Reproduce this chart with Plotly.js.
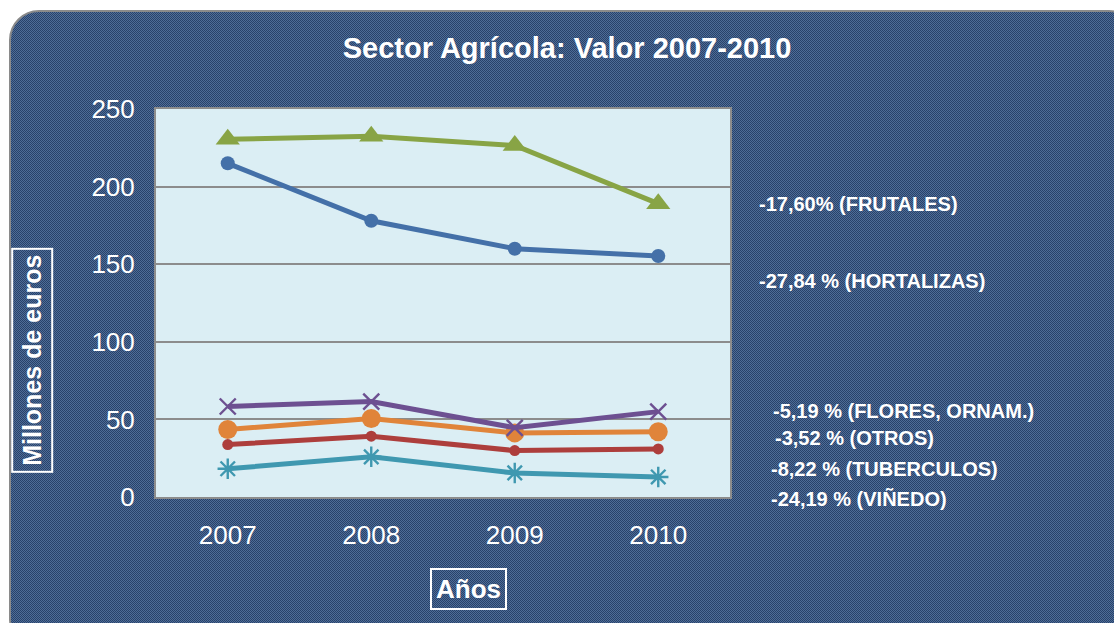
<!DOCTYPE html>
<html>
<head>
<meta charset="utf-8">
<script src="https://cdn.plot.ly/plotly-3.0.1.min.js"></script>
<style>
  html, body { margin:0; padding:0; background:#ffffff; width:1114px; height:623px; overflow:hidden; }
  #bg { position:absolute; left:9px; top:10px; width:1130px; height:640px; box-sizing:border-box;
        border:2px solid #8a8a8a; border-radius:30px;
        background: repeating-conic-gradient(#28426a 0 25%, #4f6d97 0 50%) 0 0/2px 2px; }
  #chart { position:absolute; left:0; top:0; width:1114px; height:623px; }
</style>
</head>
<body>
<div id="bg"></div>
<div id="chart"></div>
<script>
const years = ['2007', '2008', '2009', '2010'];
const frutales   = [230.5, 232.5, 226.5, 189.0];
const hortalizas = [215.0, 178.0, 160.0, 155.3];
const flores     = [58.3, 61.5, 44.6, 55.0];
const otros      = [43.5, 50.6, 41.3, 42.0];
const tuberculos = [33.8, 39.2, 29.9, 31.0];
const vinedo     = [18.2, 25.9, 15.5, 12.9];
const yTicks = [0, 50, 100, 150, 200, 250];
const changeLabels = ['-17,60% (FRUTALES)', '-27,84 % (HORTALIZAS)', '-5,19 % (FLORES, ORNAM.)',
                      '-3,52 % (OTROS)', '-8,22 % (TUBERCULOS)', '-24,19 % (VIÑEDO)'];

const F = 'Liberation Sans, Arial, sans-serif';
function tr(y, color, symbol, size, lw) {
  const m = {symbol: symbol, size: size, color: color};
  if (symbol === 'x-thin' || symbol === 'asterisk') {
    m.line = {color: color, width: lw || 2};
  }
  return {x: years, y: y, type: 'scatter', mode: 'lines+markers',
          line: {color: color, width: 5}, marker: m, hoverinfo: 'skip'};
}
const data = [
  tr(vinedo, '#3f98b0', 'asterisk', 17, 2.4),
  tr(tuberculos, '#ad3e3c', 'circle', 11),
  tr(otros, '#e0843a', 'circle', 19),
  tr(flores, '#6d5091', 'x-thin', 16, 2.4),
  tr(hortalizas, '#4470a8', 'circle', 14),
  tr(frutales, '#88a445', 'triangle-up', 21)
];

const annPos = [[1.047, 0.755], [1.047, 0.557], [1.071, 0.222], [1.075, 0.152], [1.068, 0.072], [1.068, -0.005]];
const annotations = changeLabels.map((t, i) => ({
  text: '<b>' + t + '</b>', xref: 'paper', yref: 'paper', x: annPos[i][0], y: annPos[i][1],
  xanchor: 'left', yanchor: 'middle', showarrow: false,
  font: {family: F, size: 20, color: '#ffffff'}
}));
annotations.push({
  text: '<b>Millones de euros</b>', xref: 'paper', yref: 'paper', x: -0.216, y: 0.351,
  xanchor: 'center', yanchor: 'middle', showarrow: false, textangle: -90,
  font: {family: F, size: 25, color: '#ffffff'}, bordercolor: '#ffffff', borderwidth: 2, borderpad: 5
});
annotations.push({
  text: '<b>Años</b>', xref: 'paper', yref: 'paper', x: 0.5436, y: -0.237,
  xanchor: 'center', yanchor: 'middle', showarrow: false,
  font: {family: F, size: 26, color: '#ffffff'}, bordercolor: '#ffffff', borderwidth: 2, borderpad: 4
});

const layout = {
  width: 1114, height: 623,
  paper_bgcolor: 'rgba(0,0,0,0)', plot_bgcolor: '#dbeef4',
  margin: {l: 156, r: 384, t: 109, b: 126},
  showlegend: false,
  title: {text: '<b>Sector Agrícola: Valor 2007-2010</b>', x: 0.509, xanchor: 'center',
          y: 0.923, yanchor: 'middle', font: {family: F, size: 29, color: '#ffffff'}},
  xaxis: {type: 'category', range: [-0.5, 3.5], showgrid: false, zeroline: false,
          showline: true, mirror: true, linecolor: '#8c8c8c', linewidth: 2,
          ticks: '', ticklabelstandoff: 14, tickfont: {family: F, size: 26, color: '#ffffff'}},
  yaxis: {range: [0, 250], tickvals: yTicks, ticktext: yTicks.map(String), showgrid: true,
          gridcolor: '#8c8c8c', gridwidth: 2, zeroline: false,
          showline: true, mirror: true, linecolor: '#8c8c8c', linewidth: 2,
          ticks: '', ticklabelstandoff: 14, tickfont: {family: F, size: 26, color: '#ffffff'}},
  annotations: annotations
};
Plotly.newPlot('chart', data, layout, {staticPlot: true, displayModeBar: false});
</script>
</body>
</html>
